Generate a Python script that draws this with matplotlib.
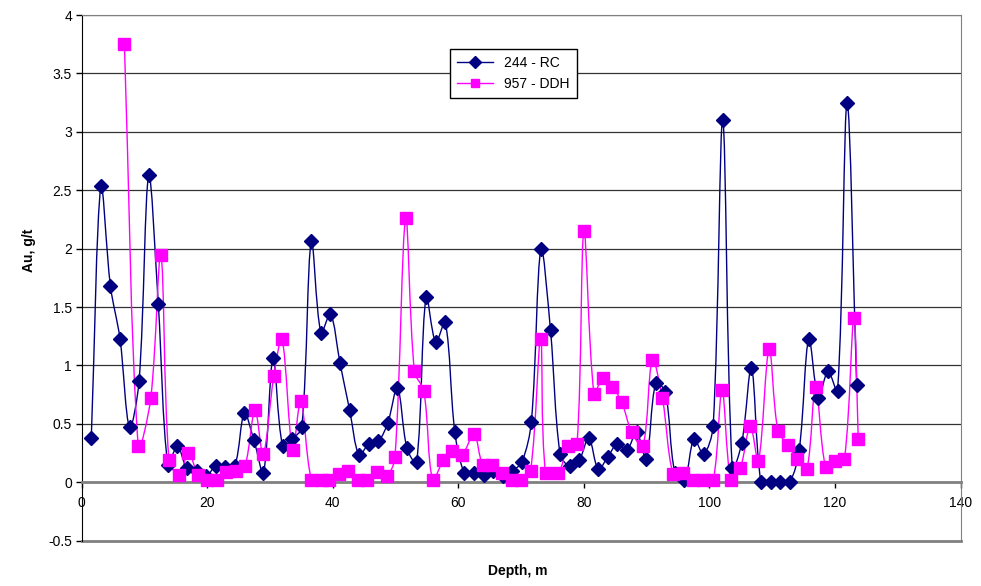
import numpy as np
import matplotlib
matplotlib.use("Agg")
import matplotlib.pyplot as plt
from matplotlib.path import Path
from matplotlib.patches import PathPatch
from matplotlib.lines import Line2D

plt.rcParams['font.family'] = ['Liberation Sans', 'DejaVu Sans']

# RC hole 244: samples every 5 ft (1.524 m)
rc_label = "244 - RC"
rc_depth = [1.524 * i for i in range(1, 82)]
rc_au = [0.38, 2.54, 1.68, 1.23, 0.47, 0.87, 2.63, 1.53, 0.15, 0.31,
         0.12, 0.10, 0.05, 0.14, 0.13, 0.14, 0.59, 0.36, 0.08, 1.06,
         0.31, 0.37, 0.47, 2.07, 1.28, 1.44, 1.02, 0.62, 0.23, 0.33,
         0.35, 0.51, 0.81, 0.29, 0.17, 1.59, 1.20, 1.37, 0.43, 0.08,
         0.08, 0.06, 0.10, 0.05, 0.10, 0.17, 0.52, 2.00, 1.30, 0.24,
         0.14, 0.19, 0.38, 0.11, 0.22, 0.33, 0.28, 0.43, 0.20, 0.85,
         0.77, 0.08, 0.02, 0.37, 0.24, 0.48, 3.10, 0.12, 0.34, 0.98,
         0.00, 0.00, 0.00, 0.00, 0.28, 1.23, 0.72, 0.95, 0.78, 3.25,
         0.83]

# DDH hole 957
ddh_label = "957 - DDH"
ddh_depth = [6.8, 9.0, 11.0, 12.6, 13.9, 15.5, 17.0, 18.6, 20.0, 21.5,
             23.0, 24.5, 26.0, 27.6, 28.9, 30.6, 31.9, 33.6, 34.9, 36.6,
             38.2, 39.4, 41.0, 42.4, 44.0, 45.5, 47.1, 48.6, 49.9, 51.6,
             53.0, 54.5, 55.9, 57.6, 59.0, 60.5, 62.5, 63.9, 65.4, 66.9,
             68.5, 69.9, 71.5, 73.1, 73.9, 75.9, 77.5, 78.9, 80.0, 81.6,
             83.0, 84.5, 86.0, 87.6, 89.4, 90.9, 92.5, 94.2, 95.8, 97.4,
             99.0, 100.6, 102.0, 103.4, 104.9, 106.5, 107.8, 109.5, 110.9, 112.5,
             113.9, 115.5, 116.9, 118.5, 120.0, 121.5, 123.0, 123.7]
ddh_au = [3.75, 0.31, 0.72, 1.95, 0.19, 0.06, 0.25, 0.06, 0.02, 0.02,
          0.09, 0.10, 0.14, 0.62, 0.24, 0.91, 1.23, 0.28, 0.70, 0.02,
          0.02, 0.02, 0.07, 0.10, 0.02, 0.02, 0.09, 0.05, 0.22, 2.26,
          0.95, 0.78, 0.02, 0.19, 0.27, 0.23, 0.41, 0.15, 0.15, 0.08,
          0.02, 0.02, 0.10, 1.23, 0.08, 0.08, 0.31, 0.33, 2.15, 0.76,
          0.89, 0.82, 0.69, 0.43, 0.31, 1.05, 0.72, 0.07, 0.08, 0.02,
          0.02, 0.02, 0.79, 0.02, 0.12, 0.48, 0.18, 1.14, 0.44, 0.32,
          0.20, 0.11, 0.82, 0.13, 0.18, 0.20, 1.41, 0.37]

x_ticks = [0, 20, 40, 60, 80, 100, 120, 140]
y_ticks = [-0.5, 0, 0.5, 1, 1.5, 2, 2.5, 3, 3.5, 4]


def smooth_path(ax, x, y):
    # smoothed line: bezier segments built in display space, with the
    # tangent weighted by neighbouring chord lengths to limit overshoot
    p = ax.transData.transform(np.column_stack([x, y]))
    n = len(p)
    verts = [p[0]]
    codes = [Path.MOVETO]
    for i in range(n - 1):
        p0 = p[i - 1] if i > 0 else p[i]
        p1 = p[i]
        p2 = p[i + 1]
        p3 = p[i + 2] if i + 2 < n else p[i + 1]
        d0 = np.hypot(*(p1 - p0))
        d1 = np.hypot(*(p2 - p1))
        d2 = np.hypot(*(p3 - p2))
        w1 = d1 / (d0 + d1) if d0 + d1 > 0 else 0.5
        w2 = d1 / (d1 + d2) if d1 + d2 > 0 else 0.5
        c1 = p1 + (p2 - p0) * w1 / 3.0
        c2 = p2 - (p3 - p1) * w2 / 3.0
        verts += [c1, c2, p2]
        codes += [Path.CURVE4] * 3
    verts = ax.transData.inverted().transform(np.array(verts))
    return Path(verts, codes)


fig = plt.figure(figsize=(9.81, 5.86), dpi=100)
ax = fig.add_axes([0.0833, 0.0773, 0.8959, 0.897])
ax.set_xlim(0, 140)
ax.set_ylim(-0.5, 4)

rc_color = '#000080'
ddh_color = '#FF00FF'

for x, y, c, z in [(rc_depth, rc_au, rc_color, 3), (ddh_depth, ddh_au, ddh_color, 4)]:
    ax.add_patch(PathPatch(smooth_path(ax, x, y), facecolor='none', edgecolor=c,
                           lw=1.0, zorder=z))

ax.plot(rc_depth, rc_au, ls='none', marker='D', ms=7.5, color=rc_color,
        mec=rc_color, zorder=5)
ax.plot(ddh_depth, ddh_au, ls='none', marker='s', ms=8, color=ddh_color,
        mec=ddh_color, zorder=6)

ax.set_xticks(x_ticks)
ax.set_yticks(y_ticks)
ax.set_yticklabels([f"{v:g}" for v in y_ticks])
ax.tick_params(labelsize=10, length=4, width=1, color='black', pad=3)
ax.tick_params(axis='x', direction='out', pad=6)

for v in y_ticks[2:]:
    ax.axhline(v, color='#333333', lw=0.9, zorder=1)

ax.spines['bottom'].set_position(('data', 0))
ax.spines['bottom'].set_color('#808080')
ax.spines['bottom'].set_linewidth(2)
ax.spines['top'].set_color('#808080')
ax.spines['right'].set_color('#808080')
ax.spines['left'].set_color('black')
ax.axhline(-0.5, color='#808080', lw=2, zorder=2, clip_on=False)

ax.set_xlabel('Depth, m', fontsize=10, fontweight='bold')
ax.xaxis.set_label_coords(0.496, -0.045)
ax.set_ylabel('Au, g/t', fontsize=10, fontweight='bold')
ax.yaxis.set_label_coords(-0.052, 0.553)

handles = [Line2D([], [], color=rc_color, lw=1, marker='D', ms=6),
           Line2D([], [], color=ddh_color, lw=1, marker='s', ms=6)]
leg = ax.legend(handles, [rc_label, ddh_label], loc='upper left',
                bbox_to_anchor=(0.419, 0.935), borderaxespad=0, fontsize=10,
                frameon=True, fancybox=False, framealpha=1, edgecolor='black',
                handlelength=2.6, borderpad=0.5, labelspacing=0.5)
leg.get_frame().set_linewidth(1)
leg.set_zorder(10)

fig.savefig('out.png', dpi=100)
